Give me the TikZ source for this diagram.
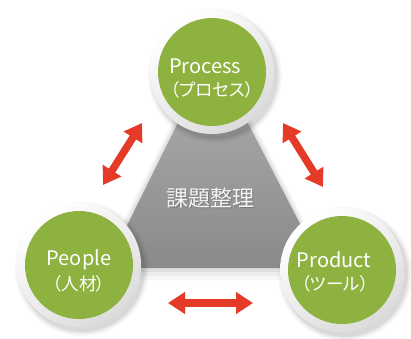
\documentclass[tikz,border=0pt]{standalone}
\usepackage{fontspec}
\setmainfont{Noto Sans CJK JP}[RawFeature=+palt]
\usetikzlibrary{arrows.meta,calc}
\definecolor{leaf}{RGB}{142,178,64}
\definecolor{arrowred}{RGB}{229,58,40}
\definecolor{trilight}{RGB}{176,176,176}
\definecolor{tridark}{RGB}{138,138,138}
\tikzset{
  ringdisk/.style={shading=axis, top color=white, bottom color=black!14, shading angle=35},
  greendisk/.style={fill=leaf},
  engtext/.style={text=white, font=\fontsize{20}{22}\selectfont, anchor=base, inner sep=0pt},
  jptext/.style={text=white, font=\fontsize{17.5}{19}\selectfont, anchor=base, inner sep=0pt},
  dblarrow/.style={draw=arrowred, line width=7.5pt, {Triangle[length=17pt,width=21pt]}-{Triangle[length=17pt,width=21pt]}},
}
\newcommand{\roundnode}[1]{%
  \foreach \r/\o in {67/0.03,65/0.05,63/0.07}{
    \fill[black,opacity=\o] ($#1+(3,4)$) circle (\r);
  }
  \shade[ringdisk] #1 circle (62);
  \fill[greendisk] #1 circle (54);
}
\begin{document}
\begin{tikzpicture}[x=1pt,y=-1pt]
\useasboundingbox (0,0) rectangle (411,338);
\fill[white] (0,0) rectangle (411,338);

% triangle
\coordinate (TA) at (212,54);
\coordinate (TL) at (106,268);
\coordinate (TR) at (323,268);
\foreach \d/\o in {12/0.03,8/0.04,4/0.06}{
  \fill[black,opacity=\o] ($(TA)+(0,-\d)$) -- ($(TL)+(-\d,\d)$) -- ($(TR)+(\d,\d)$) -- cycle;
}
\shade[top color=trilight, bottom color=tridark] (TA) -- (TL) -- (TR) -- cycle;
\node[text=black!55, font=\fontsize{22}{24}\selectfont, inner sep=0pt, opacity=0.8] at (211.5,199.5) {課題整理};
\node (core) [text=white!96!black, font=\fontsize{22}{24}\selectfont, inner sep=0pt] at (210,198) {課題整理};

% circles
\roundnode{(212,72)}
\roundnode{(79,265)}
\roundnode{(342,270)}

\node (process) [engtext] at (205,73) {Process};
\node (processjp) [jptext] at (212,96) {（プロセス）};
\node (people) [engtext] at (79,265) {People};
\node (peoplejp) [jptext] at (79,290) {（人材）};
\node (product) [engtext] at (334,267) {Product};
\node (productjp) [jptext] at (335,290) {（ツール）};

% arrows
\coordinate (a1) at (142,123);
\coordinate (a2) at (103,185);
\coordinate (b1) at (283,123);
\coordinate (b2) at (323,187);
\coordinate (c1) at (168,303);
\coordinate (c2) at (253,303);
\draw[dblarrow] (a1) -- (a2);
\draw[dblarrow] (b1) -- (b2);
\draw[dblarrow] (c1) -- (c2);
\end{tikzpicture}
\end{document}
